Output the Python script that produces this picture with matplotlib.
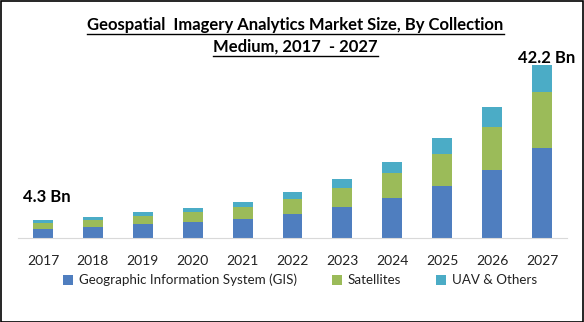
import matplotlib
matplotlib.use('Agg')
import matplotlib.pyplot as plt
import numpy as np
from matplotlib.patches import Rectangle
from matplotlib.lines import Line2D

plt.rcParams['font.family'] = ['Lato', 'DejaVu Sans']

years = ['2017', '2018', '2019', '2020', '2021', '2022', '2023', '2024', '2025', '2026', '2027']
gis = [2.2, 2.7, 3.4, 3.9, 4.6, 5.9, 7.6, 9.8, 12.7, 16.6, 22.0]
satellites = [1.5, 1.7, 2.0, 2.4, 2.9, 3.7, 4.6, 6.1, 7.8, 10.5, 13.6]
uav = [0.6, 0.7, 1.0, 1.0, 1.2, 1.7, 2.2, 2.7, 3.9, 4.9, 6.6]
series_names = ['Geographic Information System (GIS)', 'Satellites', 'UAV & Others']
colors = ['#4F7EBF', '#9BBB59', '#4BACC6']

W, H = 584, 322
fig = plt.figure(figsize=(W / 100, H / 100), dpi=100)
ax = fig.add_axes([18 / W, (H - 238) / H, 549 / W, 184.5 / H])

x = np.arange(len(years))
g = np.array(gis)
s = np.array(satellites)
u = np.array(uav)
b1 = ax.bar(x, g, 0.4, color=colors[0], label=series_names[0])
b2 = ax.bar(x, s, 0.4, bottom=g, color=colors[1], label=series_names[1])
b3 = ax.bar(x, u, 0.4, bottom=g + s, color=colors[2], label=series_names[2])
total = g + s + u

ax.set_xlim(-0.5, 10.5)
ax.set_ylim(0, 45)
ax.set_yticks([])
ax.set_xticks(x)
ax.set_xticklabels(years, fontsize=10, color='#222222')
ax.tick_params(axis='x', length=0, pad=12)
for sp in ['top', 'left', 'right']:
    ax.spines[sp].set_visible(False)
ax.spines['bottom'].set_color('#d9d9d9')

# first and last totals
ax.annotate('%.1f Bn' % total[0], (x[0], total[0]), xytext=(3, 11), textcoords='offset points',
            ha='center', va='bottom', fontsize=12, fontweight='bold')
ax.annotate('%.1f Bn' % total[-1], (x[-1], total[-1]), xytext=(3, -1), textcoords='offset points',
            ha='center', va='bottom', fontsize=12, fontweight='bold')

fig.legend(handles=[b1, b2, b3], loc='center', bbox_to_anchor=(0.514, 1 - 280 / H), ncol=3,
           frameon=False, fontsize=9.6, handlelength=0.75, handleheight=0.75, handletextpad=0.45,
           columnspacing=2.6, labelcolor='#222222')

# underlined title
lines = ['Geospatial  Imagery Analytics Market Size, By Collection', 'Medium, 2017  - 2027']
ys = [1 - 25 / H, 1 - 47 / H]
fig.canvas.draw()
r = fig.canvas.get_renderer()
for txt, yy in zip(lines, ys):
    t = fig.text(0.506, yy, txt, ha='center', va='center', fontsize=12, fontweight='bold')
    bb = t.get_window_extent(renderer=r)
    yl = (bb.y0 - 1) / H
    fig.add_artist(Line2D([bb.x0 / W, bb.x1 / W], [yl, yl], color='black', lw=1))

fig.add_artist(Rectangle((0.5 / W, 0.5 / H), 1 - 1.5 / W, 1 - 1.5 / H, transform=fig.transFigure,
                         fill=False, edgecolor='black', lw=1.2))

fig.savefig('out.png', dpi=100)
